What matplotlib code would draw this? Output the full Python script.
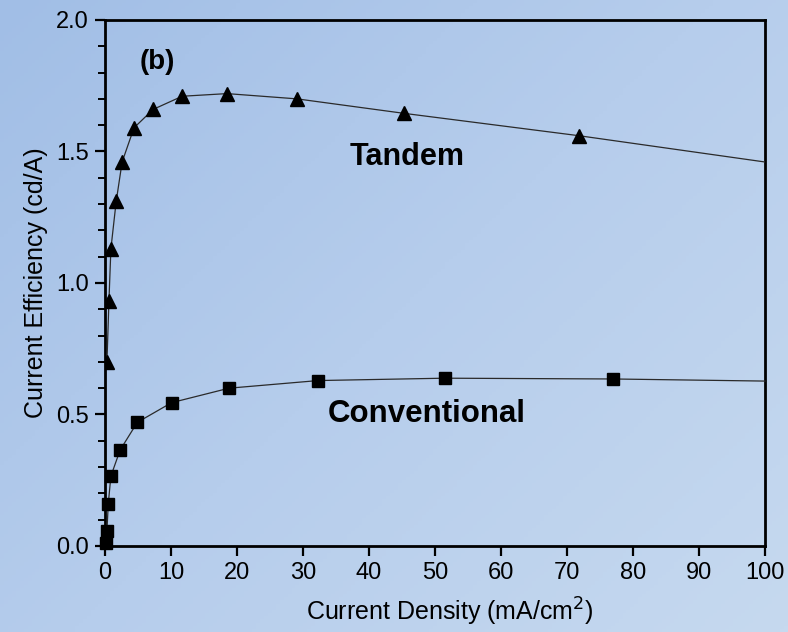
import numpy as np
import matplotlib
matplotlib.use("Agg")
import matplotlib.pyplot as plt
from matplotlib.colors import LinearSegmentedColormap

plt.rcParams['font.family'] = ['Liberation Sans', 'DejaVu Sans']

# Tandem device: current density (mA/cm^2) vs current efficiency (cd/A)
tandem_j = [0.3, 0.6, 0.9, 1.7, 2.6, 4.4, 7.3, 11.7, 18.5, 29.1, 45.3, 71.8, 100.0]
tandem_eff = [0.70, 0.93, 1.13, 1.31, 1.46, 1.59, 1.66, 1.71, 1.72, 1.70, 1.645, 1.56, 1.46]

# Conventional device
conv_j = [0.2, 0.3, 0.5, 0.9, 2.3, 4.9, 10.1, 18.8, 32.3, 51.5, 77.0, 100.0]
conv_eff = [0.01, 0.058, 0.16, 0.266, 0.365, 0.47, 0.545, 0.60, 0.629, 0.638, 0.635, 0.627]

x_ticks = [0, 10, 20, 30, 40, 50, 60, 70, 80, 90, 100]
y_ticks = [0.0, 0.5, 1.0, 1.5, 2.0]

fig = plt.figure(figsize=(7.88, 6.32), dpi=100)

# soft diagonal blue backdrop
bg = fig.add_axes([0, 0, 1, 1], zorder=-10)
gx, gy = np.meshgrid(np.linspace(0, 1, 200), np.linspace(0, 1, 200))
grad = 0.55 * gx + 0.45 * gy
cmap = LinearSegmentedColormap.from_list("bgblue", ["#a1bee6", "#b6cdec", "#c6d9ef"])
bg.imshow(grad, cmap=cmap, aspect="auto", extent=[0, 1, 0, 1], origin="upper")
bg.axis("off")

ax = fig.add_axes([0.1332, 0.1361, 0.8376, 0.8323])
ax.patch.set_alpha(0)

last_t = len(tandem_j) - 1
last_c = len(conv_j) - 1
ax.plot(tandem_j, tandem_eff, color="#2a2a2a", lw=0.9, marker="^", ms=10,
        mfc="black", mec="black", markevery=list(range(last_t)), zorder=3)
ax.plot(conv_j, conv_eff, color="#2a2a2a", lw=0.9, marker="s", ms=8,
        mfc="black", mec="black", markevery=list(range(last_c)), clip_on=False, zorder=3)

ax.set_xlim(0, 100)
ax.set_ylim(0, 2.0)
ax.set_xticks(x_ticks)
ax.set_xticklabels([str(v) for v in x_ticks])
ax.set_yticks(y_ticks)
ax.set_yticklabels([f"{v:.1f}" for v in y_ticks])
ax.set_yticks(np.arange(0, 2.0001, 0.1), minor=True)

for s in ax.spines.values():
    s.set_linewidth(2.0)
    s.set_color("black")

ax.tick_params(axis="both", which="major", direction="out", length=7.5, width=1.6,
               labelsize=17, colors="black")
ax.tick_params(axis="x", which="major", pad=4)
ax.tick_params(axis="y", which="major", pad=4)
ax.tick_params(axis="y", which="minor", direction="out", length=5, width=1.4)
ax.tick_params(axis="x", which="minor", length=0)

ax.set_xlabel("Current Density (mA/cm$^2$)", fontsize=18, labelpad=9)
ax.set_ylabel("Current Efficiency (cd/A)", fontsize=18, labelpad=6)
ax.xaxis.set_label_coords(0.522, -0.095)

ax.text(8.0, 1.84, "(b)", fontsize=20, fontweight="bold", ha="center", va="center")
ax.text(45.8, 1.48, "Tandem", fontsize=22, fontweight="bold", ha="center", va="center")
ax.text(48.8, 0.50, "Conventional", fontsize=22.5, fontweight="bold", ha="center", va="center")

fig.savefig("out.png", dpi=100)
